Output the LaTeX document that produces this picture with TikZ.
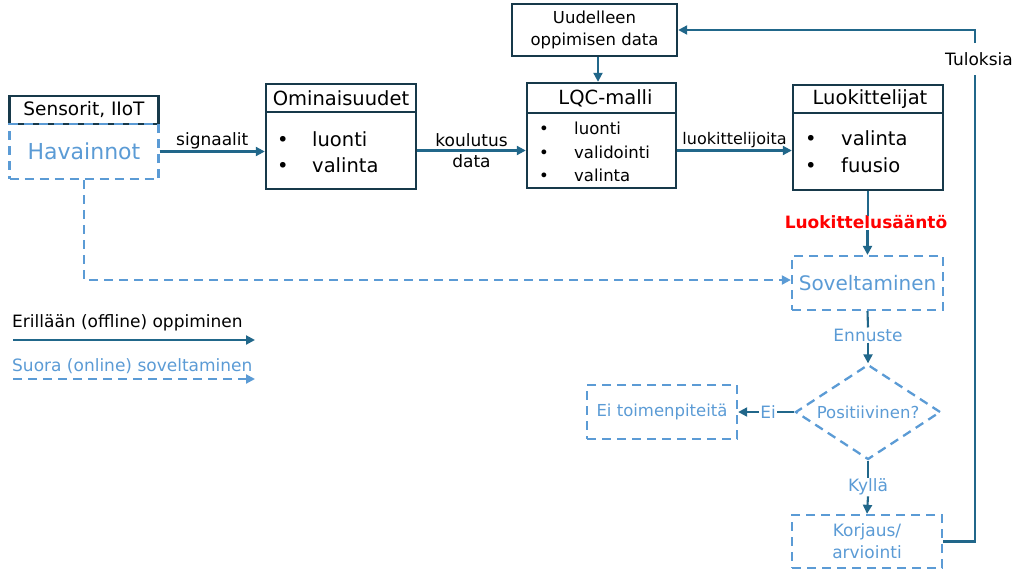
\documentclass[tikz,border=0pt]{standalone}
\usepackage{fontspec}
\setmainfont{DejaVu Sans}
\usetikzlibrary{arrows.meta,shapes.geometric}
\definecolor{boxc}{HTML}{17394A}
\definecolor{linec}{HTML}{21678A}
\definecolor{lblue}{HTML}{5B9BD5}
\newcommand{\fsz}[2]{\fontsize{#1}{#2}\selectfont}
\newcommand{\bul}[1]{\makebox[#1][l]{•}}
\begin{document}
\begin{tikzpicture}[x=1pt,y=-1pt,
  sbox/.style={draw=boxc,line width=2.4pt,rectangle,inner sep=0pt,align=center},
  dbox/.style={draw=lblue,line width=2.3pt,dash pattern=on 9pt off 6pt,rectangle,inner sep=0pt,align=center,text=lblue},
  conn/.style={draw=linec,line width=2.1pt},
  arr/.style={conn,-{Triangle[length=9pt,width=9pt]}},
  darr/.style={draw=lblue,line width=2.1pt,dash pattern=on 9pt off 6pt,-{Triangle[length=9pt,width=9pt]}},
  lbl/.style={inner sep=1pt,align=center},
  blbl/.style={inner sep=1pt,align=center,text=lblue}]
\useasboundingbox (0,0) rectangle (1024,576);
% boxes
\node[sbox,minimum width=149pt,minimum height=28pt,font=\fsz{18.5}{22}] (sen) at (84,110) {Sensorit, IIoT};
\node[dbox,minimum width=149pt,minimum height=55pt,font=\fsz{22}{26}] (hav) at (84,151.5) {Havainnot};
\node[sbox,minimum width=150pt,minimum height=28pt,font=\fsz{19.5}{23}] (omh) at (341,98) {Ominaisuudet};
\node[sbox,minimum width=150pt,minimum height=77pt] (omb) at (341,150.5) {};
\node[anchor=west,font=\fsz{19.5}{26},inner sep=0pt,align=left] (omt) at (277,152) {\bul{35pt}luonti\\\bul{35pt}valinta};
\node[sbox,minimum width=149pt,minimum height=30pt,font=\fsz{19.5}{23}] (lqh) at (601.5,98) {\hspace*{8pt}LQC-malli};
\node[sbox,minimum width=149pt,minimum height=75pt] (lqb) at (601.5,150.5) {};
\node[anchor=west,font=\fsz{16.5}{23.5},inner sep=0pt,align=left] (lqt) at (539,152) {\bul{35pt}luonti\\\bul{35pt}validointi\\\bul{35pt}valinta};
\node[sbox,minimum width=165pt,minimum height=52pt,font=\fsz{16.5}{22}] (uud) at (594.5,30) {Uudelleen\\oppimisen data};
\node[sbox,minimum width=150pt,minimum height=28pt,font=\fsz{19.5}{23}] (luh) at (868,99) {\hspace*{4pt}Luokittelijat};
\node[sbox,minimum width=150pt,minimum height=77pt] (lub) at (868,151.5) {};
\node[anchor=west,font=\fsz{19.5}{27},inner sep=0pt,align=left] (lut) at (805,152) {\bul{36pt}valinta\\\bul{36pt}fuusio};
\node[dbox,minimum width=151pt,minimum height=54pt,font=\fsz{20}{24}] (sov) at (867.5,283) {Soveltaminen};
\node[dbox,diamond,minimum width=145pt,minimum height=95pt,aspect=1.5,font=\fsz{16.5}{20},text=lblue] (dia) at (868,412) {Positiivinen?};
\node[dbox,minimum width=150pt,minimum height=54pt,font=\fsz{16.5}{20}] (eit) at (662,412) {Ei toimenpiteitä};
\node[dbox,minimum width=150pt,minimum height=53pt,font=\fsz{17}{22}] (kor) at (867,541.5) {Korjaus/\\arviointi};
% labels
\node[lbl,text=red,font=\fsz{17}{20}\bfseries] (lks) at (866,222) {Luokittelusääntö};
\node[blbl,font=\fsz{17}{20}] (enn) at (868,335) {Ennuste};
\node[blbl,font=\fsz{17}{20}] (ei) at (768,412) {Ei};
\node[blbl,font=\fsz{17}{20}] (kyl) at (868,487) {Kyllä};
\node[lbl,font=\fsz{17}{20},inner ysep=9pt] (tul) at (979,59) {Tuloksia};
% connectors
\draw[arr] (hav.east) -- node[lbl,above,font=\fsz{17}{20}] {signaalit} (hav.east -| omb.west);
\draw[arr] (omb.east) -- node[lbl,font=\fsz{17}{21}] {koulutus\\data} (omb.east -| lqb.west);
\draw[arr] (lqb.east) -- node[lbl,above,font=\fsz{16}{20},yshift=1pt] {luokittelijoita} (lqb.east -| lub.west);
\draw[arr] ([xshift=3.5pt]uud.south) -- ([xshift=-3.5pt]lqh.north);
\draw[conn] (lub.south) -- ([yshift=-2pt]lks.north -| lub.south);
\draw[arr] (lks.south -| sov.north) -- (sov.north);
\draw[conn] (sov.south) -- (enn.north);
\draw[arr] (enn.south) -- (dia.north);
\draw[conn] (dia.west) -- (ei.east);
\draw[arr] (ei.west) -- (eit.east);
\draw[conn] (dia.south) -- (kyl.north);
\draw[arr] (kyl.south) -- (kor.north);
\draw[conn] (kor.east) -- (kor.east -| 975,0) -- (tul.south -| 975,0);
\draw[arr] (tul.north -| 975,0) |- (uud.east);
\draw[darr] (hav.south) |- ([yshift=3pt]sov.west);
% legend
\node[anchor=west,inner sep=0pt,font=\fsz{17}{20}] (leg1) at (12,323) {Erillään (offline) oppiminen};
\node[anchor=west,inner sep=0pt,font=\fsz{17}{20},text=lblue] (leg2) at (12,366) {Suora (online) soveltaminen};
\coordinate (l1a) at (13,340); \coordinate (l1b) at (255,340);
\coordinate (l2a) at (13,379); \coordinate (l2b) at (255,379);
\draw[arr] (l1a) -- (l1b);
\draw[darr] (l2a) -- (l2b);
\end{tikzpicture}
\end{document}
